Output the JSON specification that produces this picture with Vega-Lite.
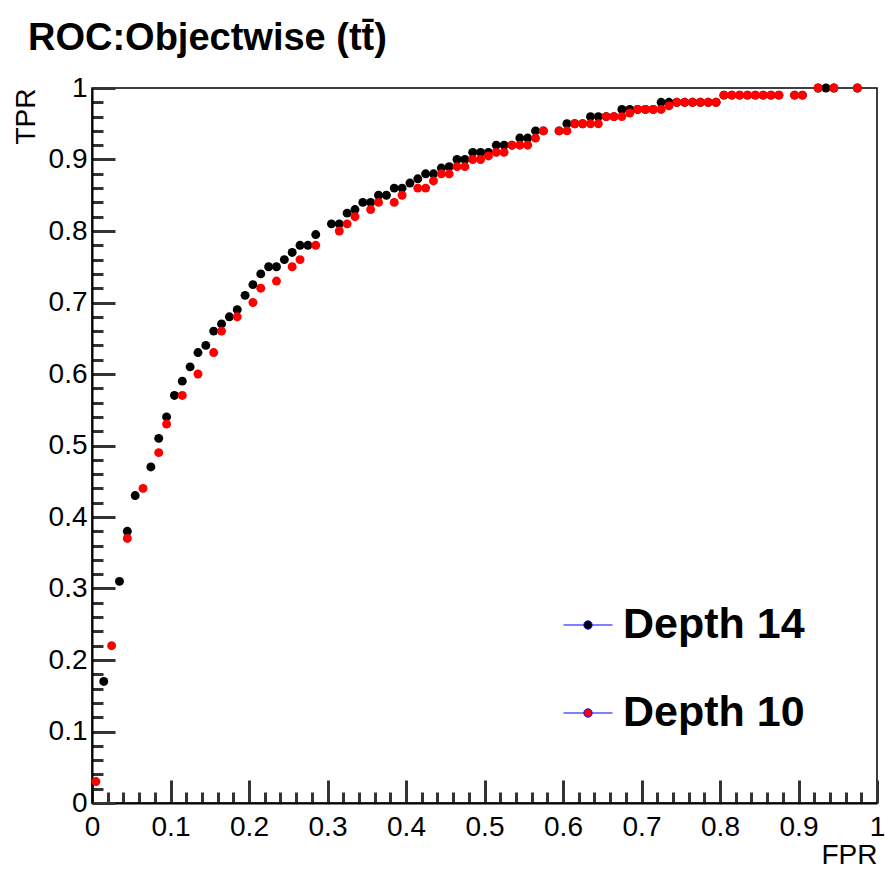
{
  "$schema": "https://vega.github.io/schema/vega-lite/v6.json",
  "width": 785,
  "height": 715,
  "autosize": {"type": "none"},
  "padding": {"left": 92, "top": 88, "right": 8, "bottom": 68},
  "background": "white",
  "config": {
    "font": "Liberation Sans",
    "view": {"stroke": "black", "strokeWidth": 1.5},
    "axis": {"grid": false, "labelFont": "Liberation Sans", "titleFont": "Liberation Sans", "labelColor": "black", "titleColor": "black", "domainColor": "black"}
  },
  "title": {
    "text": "ROC:Objectwise (tt\u0304)",
    "anchor": "start",
    "frame": "group",
    "font": "Liberation Sans",
    "fontSize": 38,
    "fontWeight": "bold",
    "color": "black",
    "baseline": "alphabetic",
    "dx": -64,
    "offset": 38,
    "dy": 52
  },
  "data": {
    "values": [
      {"fpr": 0.015, "tpr": 0.17, "series": "Depth 14"},
      {"fpr": 0.035, "tpr": 0.31, "series": "Depth 14"},
      {"fpr": 0.045, "tpr": 0.38, "series": "Depth 14"},
      {"fpr": 0.055, "tpr": 0.43, "series": "Depth 14"},
      {"fpr": 0.075, "tpr": 0.47, "series": "Depth 14"},
      {"fpr": 0.085, "tpr": 0.51, "series": "Depth 14"},
      {"fpr": 0.095, "tpr": 0.54, "series": "Depth 14"},
      {"fpr": 0.105, "tpr": 0.57, "series": "Depth 14"},
      {"fpr": 0.115, "tpr": 0.59, "series": "Depth 14"},
      {"fpr": 0.125, "tpr": 0.61, "series": "Depth 14"},
      {"fpr": 0.135, "tpr": 0.63, "series": "Depth 14"},
      {"fpr": 0.145, "tpr": 0.64, "series": "Depth 14"},
      {"fpr": 0.155, "tpr": 0.66, "series": "Depth 14"},
      {"fpr": 0.165, "tpr": 0.67, "series": "Depth 14"},
      {"fpr": 0.175, "tpr": 0.68, "series": "Depth 14"},
      {"fpr": 0.185, "tpr": 0.69, "series": "Depth 14"},
      {"fpr": 0.195, "tpr": 0.71, "series": "Depth 14"},
      {"fpr": 0.205, "tpr": 0.725, "series": "Depth 14"},
      {"fpr": 0.215, "tpr": 0.74, "series": "Depth 14"},
      {"fpr": 0.225, "tpr": 0.75, "series": "Depth 14"},
      {"fpr": 0.235, "tpr": 0.75, "series": "Depth 14"},
      {"fpr": 0.245, "tpr": 0.76, "series": "Depth 14"},
      {"fpr": 0.255, "tpr": 0.77, "series": "Depth 14"},
      {"fpr": 0.265, "tpr": 0.78, "series": "Depth 14"},
      {"fpr": 0.275, "tpr": 0.78, "series": "Depth 14"},
      {"fpr": 0.285, "tpr": 0.795, "series": "Depth 14"},
      {"fpr": 0.305, "tpr": 0.81, "series": "Depth 14"},
      {"fpr": 0.315, "tpr": 0.81, "series": "Depth 14"},
      {"fpr": 0.325, "tpr": 0.825, "series": "Depth 14"},
      {"fpr": 0.335, "tpr": 0.83, "series": "Depth 14"},
      {"fpr": 0.345, "tpr": 0.84, "series": "Depth 14"},
      {"fpr": 0.355, "tpr": 0.84, "series": "Depth 14"},
      {"fpr": 0.365, "tpr": 0.85, "series": "Depth 14"},
      {"fpr": 0.375, "tpr": 0.85, "series": "Depth 14"},
      {"fpr": 0.385, "tpr": 0.86, "series": "Depth 14"},
      {"fpr": 0.395, "tpr": 0.86, "series": "Depth 14"},
      {"fpr": 0.405, "tpr": 0.867, "series": "Depth 14"},
      {"fpr": 0.415, "tpr": 0.873, "series": "Depth 14"},
      {"fpr": 0.425, "tpr": 0.88, "series": "Depth 14"},
      {"fpr": 0.435, "tpr": 0.88, "series": "Depth 14"},
      {"fpr": 0.445, "tpr": 0.888, "series": "Depth 14"},
      {"fpr": 0.455, "tpr": 0.89, "series": "Depth 14"},
      {"fpr": 0.465, "tpr": 0.9, "series": "Depth 14"},
      {"fpr": 0.475, "tpr": 0.9, "series": "Depth 14"},
      {"fpr": 0.485, "tpr": 0.91, "series": "Depth 14"},
      {"fpr": 0.495, "tpr": 0.91, "series": "Depth 14"},
      {"fpr": 0.505, "tpr": 0.91, "series": "Depth 14"},
      {"fpr": 0.515, "tpr": 0.92, "series": "Depth 14"},
      {"fpr": 0.525, "tpr": 0.92, "series": "Depth 14"},
      {"fpr": 0.535, "tpr": 0.92, "series": "Depth 14"},
      {"fpr": 0.545, "tpr": 0.93, "series": "Depth 14"},
      {"fpr": 0.555, "tpr": 0.93, "series": "Depth 14"},
      {"fpr": 0.565, "tpr": 0.94, "series": "Depth 14"},
      {"fpr": 0.575, "tpr": 0.94, "series": "Depth 14"},
      {"fpr": 0.595, "tpr": 0.94, "series": "Depth 14"},
      {"fpr": 0.605, "tpr": 0.95, "series": "Depth 14"},
      {"fpr": 0.615, "tpr": 0.95, "series": "Depth 14"},
      {"fpr": 0.625, "tpr": 0.95, "series": "Depth 14"},
      {"fpr": 0.635, "tpr": 0.96, "series": "Depth 14"},
      {"fpr": 0.645, "tpr": 0.96, "series": "Depth 14"},
      {"fpr": 0.655, "tpr": 0.96, "series": "Depth 14"},
      {"fpr": 0.665, "tpr": 0.96, "series": "Depth 14"},
      {"fpr": 0.675, "tpr": 0.97, "series": "Depth 14"},
      {"fpr": 0.685, "tpr": 0.97, "series": "Depth 14"},
      {"fpr": 0.695, "tpr": 0.97, "series": "Depth 14"},
      {"fpr": 0.705, "tpr": 0.97, "series": "Depth 14"},
      {"fpr": 0.715, "tpr": 0.97, "series": "Depth 14"},
      {"fpr": 0.725, "tpr": 0.98, "series": "Depth 14"},
      {"fpr": 0.735, "tpr": 0.98, "series": "Depth 14"},
      {"fpr": 0.745, "tpr": 0.98, "series": "Depth 14"},
      {"fpr": 0.755, "tpr": 0.98, "series": "Depth 14"},
      {"fpr": 0.765, "tpr": 0.98, "series": "Depth 14"},
      {"fpr": 0.775, "tpr": 0.98, "series": "Depth 14"},
      {"fpr": 0.785, "tpr": 0.98, "series": "Depth 14"},
      {"fpr": 0.795, "tpr": 0.98, "series": "Depth 14"},
      {"fpr": 0.805, "tpr": 0.99, "series": "Depth 14"},
      {"fpr": 0.815, "tpr": 0.99, "series": "Depth 14"},
      {"fpr": 0.825, "tpr": 0.99, "series": "Depth 14"},
      {"fpr": 0.835, "tpr": 0.99, "series": "Depth 14"},
      {"fpr": 0.845, "tpr": 0.99, "series": "Depth 14"},
      {"fpr": 0.855, "tpr": 0.99, "series": "Depth 14"},
      {"fpr": 0.865, "tpr": 0.99, "series": "Depth 14"},
      {"fpr": 0.875, "tpr": 0.99, "series": "Depth 14"},
      {"fpr": 0.895, "tpr": 0.99, "series": "Depth 14"},
      {"fpr": 0.905, "tpr": 0.99, "series": "Depth 14"},
      {"fpr": 0.925, "tpr": 1.0, "series": "Depth 14"},
      {"fpr": 0.935, "tpr": 1.0, "series": "Depth 14"},
      {"fpr": 0.945, "tpr": 1.0, "series": "Depth 14"},
      {"fpr": 0.975, "tpr": 1.0, "series": "Depth 14"},
      {"fpr": 0.005, "tpr": 0.03, "series": "Depth 10"},
      {"fpr": 0.025, "tpr": 0.22, "series": "Depth 10"},
      {"fpr": 0.045, "tpr": 0.37, "series": "Depth 10"},
      {"fpr": 0.065, "tpr": 0.44, "series": "Depth 10"},
      {"fpr": 0.085, "tpr": 0.49, "series": "Depth 10"},
      {"fpr": 0.095, "tpr": 0.53, "series": "Depth 10"},
      {"fpr": 0.115, "tpr": 0.57, "series": "Depth 10"},
      {"fpr": 0.135, "tpr": 0.6, "series": "Depth 10"},
      {"fpr": 0.155, "tpr": 0.63, "series": "Depth 10"},
      {"fpr": 0.165, "tpr": 0.66, "series": "Depth 10"},
      {"fpr": 0.185, "tpr": 0.68, "series": "Depth 10"},
      {"fpr": 0.205, "tpr": 0.7, "series": "Depth 10"},
      {"fpr": 0.215, "tpr": 0.72, "series": "Depth 10"},
      {"fpr": 0.235, "tpr": 0.73, "series": "Depth 10"},
      {"fpr": 0.255, "tpr": 0.75, "series": "Depth 10"},
      {"fpr": 0.265, "tpr": 0.76, "series": "Depth 10"},
      {"fpr": 0.285, "tpr": 0.78, "series": "Depth 10"},
      {"fpr": 0.315, "tpr": 0.8, "series": "Depth 10"},
      {"fpr": 0.325, "tpr": 0.81, "series": "Depth 10"},
      {"fpr": 0.335, "tpr": 0.82, "series": "Depth 10"},
      {"fpr": 0.355, "tpr": 0.83, "series": "Depth 10"},
      {"fpr": 0.365, "tpr": 0.84, "series": "Depth 10"},
      {"fpr": 0.385, "tpr": 0.84, "series": "Depth 10"},
      {"fpr": 0.395, "tpr": 0.85, "series": "Depth 10"},
      {"fpr": 0.415, "tpr": 0.86, "series": "Depth 10"},
      {"fpr": 0.425, "tpr": 0.86, "series": "Depth 10"},
      {"fpr": 0.435, "tpr": 0.87, "series": "Depth 10"},
      {"fpr": 0.445, "tpr": 0.88, "series": "Depth 10"},
      {"fpr": 0.455, "tpr": 0.88, "series": "Depth 10"},
      {"fpr": 0.465, "tpr": 0.89, "series": "Depth 10"},
      {"fpr": 0.475, "tpr": 0.89, "series": "Depth 10"},
      {"fpr": 0.485, "tpr": 0.9, "series": "Depth 10"},
      {"fpr": 0.495, "tpr": 0.9, "series": "Depth 10"},
      {"fpr": 0.505, "tpr": 0.905, "series": "Depth 10"},
      {"fpr": 0.515, "tpr": 0.91, "series": "Depth 10"},
      {"fpr": 0.525, "tpr": 0.91, "series": "Depth 10"},
      {"fpr": 0.535, "tpr": 0.92, "series": "Depth 10"},
      {"fpr": 0.545, "tpr": 0.92, "series": "Depth 10"},
      {"fpr": 0.555, "tpr": 0.92, "series": "Depth 10"},
      {"fpr": 0.565, "tpr": 0.93, "series": "Depth 10"},
      {"fpr": 0.575, "tpr": 0.94, "series": "Depth 10"},
      {"fpr": 0.595, "tpr": 0.94, "series": "Depth 10"},
      {"fpr": 0.605, "tpr": 0.94, "series": "Depth 10"},
      {"fpr": 0.615, "tpr": 0.95, "series": "Depth 10"},
      {"fpr": 0.625, "tpr": 0.95, "series": "Depth 10"},
      {"fpr": 0.635, "tpr": 0.95, "series": "Depth 10"},
      {"fpr": 0.645, "tpr": 0.95, "series": "Depth 10"},
      {"fpr": 0.655, "tpr": 0.96, "series": "Depth 10"},
      {"fpr": 0.665, "tpr": 0.96, "series": "Depth 10"},
      {"fpr": 0.675, "tpr": 0.96, "series": "Depth 10"},
      {"fpr": 0.685, "tpr": 0.965, "series": "Depth 10"},
      {"fpr": 0.695, "tpr": 0.97, "series": "Depth 10"},
      {"fpr": 0.705, "tpr": 0.97, "series": "Depth 10"},
      {"fpr": 0.715, "tpr": 0.97, "series": "Depth 10"},
      {"fpr": 0.725, "tpr": 0.97, "series": "Depth 10"},
      {"fpr": 0.735, "tpr": 0.975, "series": "Depth 10"},
      {"fpr": 0.745, "tpr": 0.98, "series": "Depth 10"},
      {"fpr": 0.755, "tpr": 0.98, "series": "Depth 10"},
      {"fpr": 0.765, "tpr": 0.98, "series": "Depth 10"},
      {"fpr": 0.775, "tpr": 0.98, "series": "Depth 10"},
      {"fpr": 0.785, "tpr": 0.98, "series": "Depth 10"},
      {"fpr": 0.795, "tpr": 0.98, "series": "Depth 10"},
      {"fpr": 0.805, "tpr": 0.99, "series": "Depth 10"},
      {"fpr": 0.815, "tpr": 0.99, "series": "Depth 10"},
      {"fpr": 0.825, "tpr": 0.99, "series": "Depth 10"},
      {"fpr": 0.835, "tpr": 0.99, "series": "Depth 10"},
      {"fpr": 0.845, "tpr": 0.99, "series": "Depth 10"},
      {"fpr": 0.855, "tpr": 0.99, "series": "Depth 10"},
      {"fpr": 0.865, "tpr": 0.99, "series": "Depth 10"},
      {"fpr": 0.875, "tpr": 0.99, "series": "Depth 10"},
      {"fpr": 0.895, "tpr": 0.99, "series": "Depth 10"},
      {"fpr": 0.905, "tpr": 0.99, "series": "Depth 10"},
      {"fpr": 0.925, "tpr": 1.0, "series": "Depth 10"},
      {"fpr": 0.945, "tpr": 1.0, "series": "Depth 10"},
      {"fpr": 0.975, "tpr": 1.0, "series": "Depth 10"}
    ]
  },
  "resolve": {"axis": {"x": "independent", "y": "independent"}},
  "layer": [
    {
      "transform": [{"filter": "datum.series === 'Depth 14'"}],
      "mark": {"type": "point", "filled": true, "size": 80, "opacity": 1, "strokeWidth": 0},
      "encoding": {
        "x": {"field": "fpr", "type": "quantitative", "scale": {"domain": [0, 1], "nice": false, "zero": false},
          "axis": {"orient": "top", "offset": -715, "values": [0.02,0.04,0.06,0.08,0.12,0.14,0.16,0.18,0.22,0.24,0.26,0.28,0.32,0.34,0.36,0.38,0.42,0.44,0.46,0.48,0.52,0.54,0.56,0.58,0.62,0.64,0.66,0.68,0.72,0.74,0.76,0.78,0.82,0.84,0.86,0.88,0.92,0.94,0.96,0.98], "labels": false, "domain": false, "title": null, "ticks": true, "tickSize": 11, "tickWidth": 3, "tickColor": "#333333", "tickOpacity": 1}},
        "y": {"field": "tpr", "type": "quantitative", "scale": {"domain": [0, 1], "nice": false, "zero": false},
          "axis": {"orient": "right", "offset": -785, "values": [0.02,0.04,0.06,0.08,0.12,0.14,0.16,0.18,0.22,0.24,0.26,0.28,0.32,0.34,0.36,0.38,0.42,0.44,0.46,0.48,0.52,0.54,0.56,0.58,0.62,0.64,0.66,0.68,0.72,0.74,0.76,0.78,0.82,0.84,0.86,0.88,0.92,0.94,0.96,0.98], "labels": false, "domain": false, "title": null, "ticks": true, "tickSize": 11, "tickWidth": 3, "tickColor": "#333333", "tickOpacity": 1}},
        "color": {"field": "series", "type": "nominal",
          "scale": {"domain": ["Depth 14", "Depth 10"], "range": ["black", "red"]},
          "legend": {
            "orient": "none", "legendX": 471, "legendY": 512, "title": null, "padding": 0,
            "symbolType": "M-1,0H-0.17M0.17,0H1M-0.17,0A0.17,0.17,0,1,0,0.17,0A0.17,0.17,0,1,0,-0.17,0Z",
            "symbolSize": 2401, "symbolStrokeWidth": 1, "symbolStrokeColor": "blue",
            "labelFont": "Liberation Sans", "labelFontSize": 43, "labelFontWeight": "bold", "labelColor": "black",
            "labelOffset": 10, "rowPadding": 41, "labelLimit": 400,
            "encode": {"symbols": {"update": {"stroke": {"value": "#1a1aff"}, "strokeWidth": {"value": 1.2}}}}
          }}
      }
    },
    {
      "transform": [{"filter": "datum.series === 'Depth 10'"}],
      "mark": {"type": "point", "filled": true, "size": 80, "opacity": 1, "strokeWidth": 0},
      "encoding": {
        "x": {"field": "fpr", "type": "quantitative", "scale": {"domain": [0, 1], "nice": false, "zero": false},
          "axis": {"orient": "bottom", "values": [0,0.1,0.2,0.3,0.4,0.5,0.6,0.7,0.8,0.9,1], "labelExpr": "datum.value === 0 ? '0' : datum.value === 1 ? '1' : format(datum.value, '.1f')", "ticks": true, "tickSize": -23, "tickWidth": 3, "tickColor": "#333333", "tickOpacity": 1, "domainWidth": 2, "labelFontSize": 28, "labelPadding": 33, "labelFlush": false, "title": "FPR", "titleFontSize": 28, "titleFontWeight": "normal", "titleAnchor": "end", "titlePadding": 0}},
        "y": {"field": "tpr", "type": "quantitative", "scale": {"domain": [0, 1], "nice": false, "zero": false},
          "axis": {"orient": "left", "values": [0,0.1,0.2,0.3,0.4,0.5,0.6,0.7,0.8,0.9,1], "labelExpr": "datum.value === 0 ? '0' : datum.value === 1 ? '1' : format(datum.value, '.1f')", "ticks": true, "tickSize": -23, "tickWidth": 3, "tickColor": "#333333", "tickOpacity": 1, "domainWidth": 2, "labelFontSize": 28, "labelPadding": 28, "labelFlush": false, "title": "TPR", "titleFontSize": 28, "titleFontWeight": "normal", "titleAnchor": "end", "titlePadding": 8}},
        "color": {"field": "series", "type": "nominal",
          "scale": {"domain": ["Depth 14", "Depth 10"], "range": ["black", "red"]}}
      }
    }
  ]
}
